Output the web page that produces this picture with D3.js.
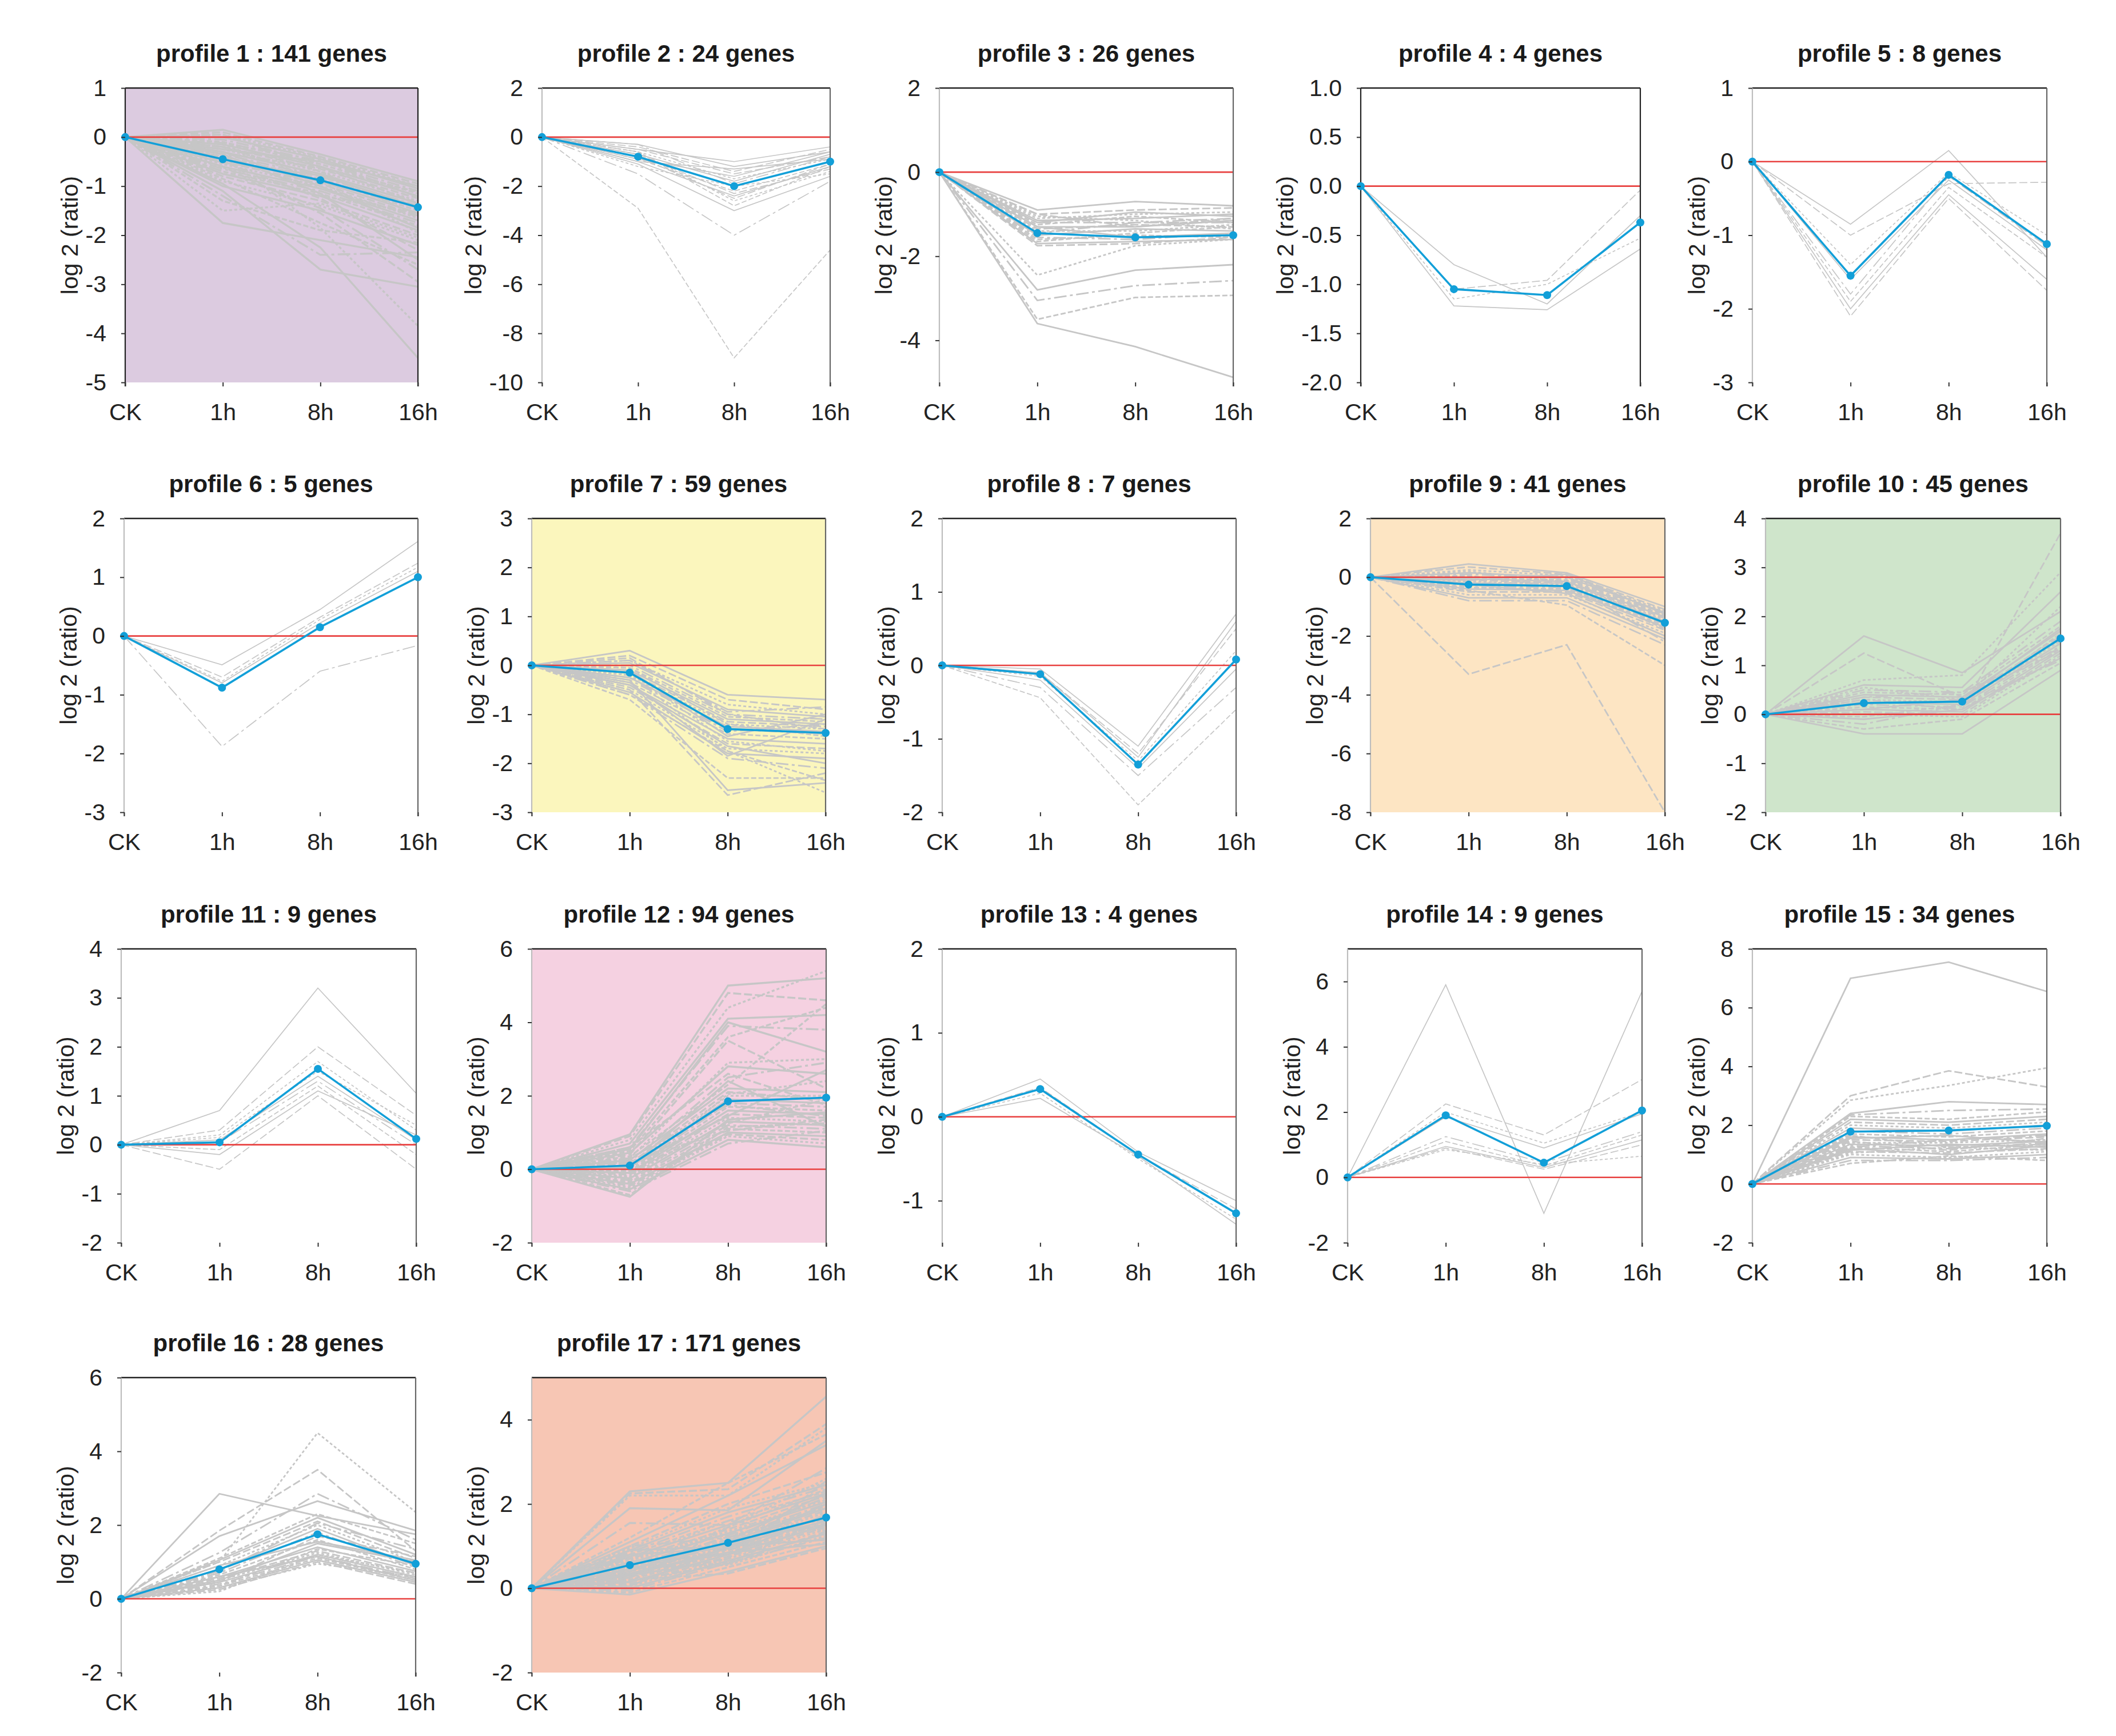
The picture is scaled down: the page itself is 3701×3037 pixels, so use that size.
<!DOCTYPE html>
<html><head><meta charset="utf-8">
<script src="https://cdn.jsdelivr.net/npm/d3@7"></script>
<style>body{margin:0;background:#fff} text{font-family:"Liberation Sans",Arial,sans-serif}</style>
</head><body><svg id="c" width="3701" height="3037"></svg>
<script>
// ---------------- DATA ----------------
const timepoints = ["CK", "1h", "8h", "16h"];
const profileIds = [1,2,3,4,5,6,7,8,9,10,11,12,13,14,15,16,17];
const geneCounts = [141,24,26,4,8,5,59,7,41,45,9,94,4,9,34,28,171];
const yDomains = [[-5,1],[-10,2],[-5,2],[-2,1],[-3,1],[-3,2],[-3,3],[-2,2],[-8,2],[-2,4],[-2,4],[-2,6],[-1.5,2],[-2,7],[-2,8],[-2,6],[-2,5]];
const yTickValues = [
  [-5,-4,-3,-2,-1,0,1],[-10,-8,-6,-4,-2,0,2],[-4,-2,0,2],[-2,-1.5,-1,-0.5,0,0.5,1],[-3,-2,-1,0,1],
  [-3,-2,-1,0,1,2],[-3,-2,-1,0,1,2,3],[-2,-1,0,1,2],[-8,-6,-4,-2,0,2],[-2,-1,0,1,2,3,4],
  [-2,-1,0,1,2,3,4],[-2,0,2,4,6],[-1,0,1,2],[-2,0,2,4,6],[-2,0,2,4,6,8],[-2,0,2,4,6],[-2,0,2,4]];
const tickDecimals = [0,0,0,1,0,0,0,0,0,0,0,0,0,0,0,0,0];
const meanProfiles = [
  [0,-0.45,-0.88,-1.43],[0,-0.8,-2.0,-1.0],[0,-1.45,-1.55,-1.5],[0,-1.05,-1.11,-0.37],[0,-1.55,-0.18,-1.12],
  [0,-0.88,0.15,1.0],[0,-0.15,-1.3,-1.38],[0,-0.12,-1.35,0.08],[0,-0.25,-0.3,-1.55],[0,0.23,0.26,1.55],
  [0,0.05,1.55,0.12],[0,0.1,1.85,1.95],[0,0.33,-0.45,-1.15],[0,1.9,0.45,2.05],[0,1.78,1.82,1.98],
  [0,0.8,1.75,0.95],[0,0.55,1.08,1.68]];

const genesP1 = [[0,0.15,-0.35,-0.9],[0,0.1,-0.4,-0.95],[0,0.05,-0.42,-1.0],[0,0.0,-0.45,-1.05],[0,-0.05,-0.5,-1.1],
 [0,-0.1,-0.55,-1.15],[0,-0.15,-0.6,-1.2],[0,-0.2,-0.65,-1.25],[0,-0.25,-0.7,-1.3],[0,-0.3,-0.75,-1.35],
 [0,-0.35,-0.8,-1.4],[0,-0.4,-0.85,-1.5],[0,-0.45,-0.9,-1.55],[0,-0.5,-0.95,-1.6],[0,-0.55,-1.0,-1.65],
 [0,-0.6,-1.05,-1.7],[0,-0.65,-1.1,-1.75],[0,-0.7,-1.15,-1.8],[0,-0.75,-1.2,-1.9],[0,-0.8,-1.3,-2.0],
 [0,-0.9,-1.4,-2.1],[0,-1.0,-1.5,-2.2],[0,-0.2,-0.8,-1.45],[0,-0.1,-0.7,-1.6],[0,-0.3,-1.0,-1.85],
 [0,-0.5,-1.25,-2.3],[0,-1.5,-1.35,-2.05],[0,-1.75,-2.1,-2.45],[0,-1.2,-2.4,-2.35],[0,-0.85,-1.75,-2.6],
 [0,-1.1,-2.7,-3.05],[0,-0.6,-1.55,-2.95],[0,-0.4,-1.85,-3.85],[0,-0.95,-2.25,-4.5],[0,-0.7,-1.45,-2.7],
 [0,-1.3,-1.9,-2.15],[0,-0.35,-1.15,-2.5],[0,0.05,-0.6,-1.35],[0,-0.15,-0.9,-1.95],[0,-0.25,-0.5,-1.0],
 [0,-0.12,-0.48,-1.22],[0,-0.32,-0.62,-1.12],[0,-0.52,-0.78,-1.42],[0,-0.42,-1.05,-1.62],[0,-0.62,-1.2,-1.55]];
const genesP2 = [[0,-0.3,-1.2,-0.6],[0,-0.5,-1.5,-0.8],[0,-0.6,-1.7,-0.9],[0,-0.7,-1.8,-0.7],[0,-0.8,-2.0,-1.0],
 [0,-0.9,-2.2,-1.1],[0,-1.0,-2.4,-1.2],[0,-0.4,-1.4,-0.5],[0,-0.6,-2.6,-1.4],[0,-1.1,-3.0,-1.6],
 [0,-1.5,-4.0,-1.8],[0,-2.9,-9.0,-4.6],[0,-0.5,-1.0,-0.4],[0,-0.7,-2.3,-1.3],[0,-1.2,-2.0,-1.5],
 [0,-0.9,-1.6,-0.6],[0,-0.3,-1.9,-0.8],[0,-0.6,-2.8,-1.2],[0,-1.0,-1.3,-0.9],[0,-0.8,-2.5,-1.1]];
const genesP3 = [[0,-0.9,-0.7,-0.8],[0,-1.0,-0.9,-0.85],[0,-1.1,-1.0,-0.95],[0,-1.15,-1.1,-1.0],[0,-1.2,-1.2,-1.1],
 [0,-1.25,-1.05,-1.2],[0,-1.3,-1.3,-1.15],[0,-1.35,-1.25,-1.3],[0,-1.4,-1.4,-1.25],[0,-1.5,-1.35,-1.4],
 [0,-1.55,-1.6,-1.45],[0,-1.6,-1.5,-1.55],[0,-1.7,-1.65,-1.6],[0,-1.75,-1.7,-1.55],[0,-1.05,-1.15,-1.35],
 [0,-1.2,-0.95,-1.05],[0,-1.45,-1.2,-1.2],[0,-1.65,-1.45,-1.3],[0,-1.3,-1.55,-1.45],[0,-1.0,-1.3,-1.1],
 [0,-2.45,-1.75,-1.6],[0,-2.8,-2.33,-2.2],[0,-3.05,-2.7,-2.58],[0,-3.5,-2.98,-2.93],[0,-3.6,-4.15,-4.88]];
const genesP4 = [[0,-0.8,-1.2,-0.3],[0,-1.05,-0.96,-0.04],[0,-1.15,-1.0,-0.53],[0,-1.22,-1.26,-0.64]];
const genesP5 = [[0,-0.85,0.15,-1.3],[0,-1.0,-0.3,-0.28],[0,-1.4,-0.15,-1.0],[0,-1.6,-0.25,-1.2],
 [0,-1.8,-0.2,-1.15],[0,-1.9,-0.35,-1.3],[0,-2.0,-0.45,-1.6],[0,-2.1,-0.5,-1.75]];
const genesP6 = [[0,-0.49,0.45,1.61],[0,-0.7,0.32,1.24],[0,-0.77,0.28,1.17],[0,-0.8,0.22,1.1],[0,-1.88,-0.6,-0.16]];
const genesP7 = [[0,0.3,-0.6,-0.7],[0,0.2,-0.7,-0.9],[0,0.1,-0.8,-1.0],[0,0.05,-0.9,-1.05],[0,0.0,-1.0,-1.1],
 [0,-0.05,-1.05,-1.15],[0,-0.1,-1.1,-1.2],[0,-0.15,-1.15,-1.25],[0,-0.2,-1.2,-1.3],[0,-0.25,-1.25,-1.35],
 [0,-0.3,-1.3,-1.4],[0,-0.35,-1.4,-1.5],[0,-0.4,-1.5,-1.6],[0,-0.45,-1.6,-1.7],[0,-0.5,-1.7,-1.8],
 [0,-0.55,-1.8,-1.9],[0,-0.6,-1.9,-2.1],[0,-0.7,-2.3,-2.3],[0,-0.3,-2.55,-2.4],[0,-0.5,-2.65,-2.2],
 [0,-0.2,-1.75,-2.6],[0,-0.1,-1.45,-1.0],[0,-0.25,-1.35,-1.2],[0,-0.05,-1.2,-1.45],[0,-0.4,-1.65,-2.0],
 [0,0.15,-1.0,-1.3],[0,-0.15,-1.55,-1.75],[0,-0.35,-1.85,-1.1],[0,0.1,-0.95,-0.85],[0,-0.6,-1.75,-2.35]];
const genesP8 = [[0,-0.05,-1.1,0.7],[0,-0.1,-1.2,0.5],[0,-0.15,-1.3,0.2],[0,-0.2,-1.4,-0.05],
 [0,-0.3,-1.5,-0.3],[0,-0.44,-1.9,-0.6],[0,-0.1,-1.25,0.6]];
const genesP9 = [[0,0.45,0.15,-1.0],[0,0.35,0.1,-1.1],[0,0.25,0.05,-1.15],[0,0.15,0.0,-1.2],[0,0.1,-0.05,-1.25],
 [0,0.0,-0.1,-1.3],[0,-0.05,-0.15,-1.35],[0,-0.1,-0.2,-1.4],[0,-0.15,-0.25,-1.45],[0,-0.2,-0.3,-1.5],
 [0,-0.3,-0.35,-1.6],[0,-0.35,-0.4,-1.65],[0,-0.4,-0.45,-1.7],[0,-0.5,-0.5,-1.8],[0,-0.6,-0.6,-1.9],
 [0,-0.7,-0.7,-2.1],[0,-0.8,-0.8,-2.3],[0,-0.45,-0.95,-3.0],[0,-0.25,-0.55,-2.0],[0,-3.3,-2.3,-8.0],
 [0,0.2,-0.15,-1.55],[0,-0.1,0.1,-1.25],[0,-0.2,-0.2,-2.2],[0,0.05,-0.35,-1.75]];
const genesP10 = [[0,1.6,0.85,2.1],[0,1.25,0.35,1.3],[0,0.7,0.8,2.9],[0,0.6,0.55,2.5],[0,0.5,0.45,1.9],
 [0,0.45,0.4,1.8],[0,0.4,0.35,1.7],[0,0.35,0.3,1.6],[0,0.3,0.25,1.5],[0,0.25,0.2,1.45],
 [0,0.2,0.15,1.4],[0,0.15,0.1,1.35],[0,0.1,0.05,1.3],[0,0.05,0.0,1.25],[0,0.0,-0.05,1.2],
 [0,-0.1,0.1,1.15],[0,-0.2,0.2,1.1],[0,-0.3,-0.1,1.05],[0,-0.4,-0.4,0.9],[0,0.3,0.1,3.7],
 [0,0.55,0.3,2.2],[0,0.1,0.3,1.75],[0,0.35,0.45,1.35],[0,-0.05,0.2,1.65]];
const genesP11 = [[0,0.7,3.2,1.05],[0,0.3,2.0,0.6],[0,0.2,1.7,0.3],[0,0.1,1.4,0.1],[0,0.05,1.3,0.0],
 [0,-0.1,1.2,-0.2],[0,-0.2,1.1,0.2],[0,-0.5,1.0,-0.5],[0,0.15,1.5,0.4]];
const genesP12 = [[0,0.95,5.0,5.2],[0,0.9,4.8,4.6],[0,0.8,4.4,5.4],[0,0.7,4.1,4.2],[0,0.6,3.9,3.8],
 [0,0.5,3.6,4.4],[0,0.55,4.0,3.2],[0,0.4,3.5,2.2],[0,0.3,2.9,3.0],[0,0.45,2.8,2.6],
 [0,0.2,2.5,2.9],[0,0.35,2.3,4.5],[0,0.25,2.2,2.1],[0,0.15,2.1,1.9],[0,0.1,2.0,2.0],
 [0,0.05,1.9,1.8],[0,0.0,1.8,1.7],[0,-0.05,1.7,1.6],[0,-0.1,1.6,1.5],[0,-0.15,1.5,1.4],
 [0,-0.2,1.4,1.3],[0,-0.25,1.3,1.2],[0,-0.3,1.2,1.1],[0,-0.35,1.1,1.0],[0,-0.4,1.0,0.9],
 [0,-0.45,0.95,0.8],[0,-0.5,0.9,0.7],[0,-0.55,0.8,0.6],[0,-0.6,0.7,1.05],[0,-0.7,1.15,1.25],
 [0,-0.75,1.35,1.55],[0,0.6,2.6,1.75],[0,-0.2,2.05,2.4],[0,0.1,1.45,2.7],[0,0.3,1.75,1.45],
 [0,-0.1,1.25,1.9],[0,0.05,2.4,1.15],[0,0.2,1.05,1.35]];
const genesP13 = [[0,0.45,-0.42,-1.0],[0,0.35,-0.45,-1.1],[0,0.28,-0.5,-1.22],[0,0.22,-0.47,-1.28]];
const genesP14 = [[0,5.9,-1.1,5.7],[0,2.25,1.3,3.0],[0,2.0,1.05,2.0],[0,1.85,0.9,1.95],[0,1.25,0.45,1.4],
 [0,1.1,0.35,1.3],[0,0.95,0.3,1.15],[0,0.9,0.25,1.0],[0,0.85,0.4,0.65]];
const genesP15 = [[0,7.0,7.55,6.55],[0,3.0,3.85,3.3],[0,2.85,3.35,3.95],[0,2.4,2.8,2.7],[0,2.35,2.5,2.55],
 [0,2.3,2.2,2.45],[0,2.2,2.1,2.3],[0,2.1,2.0,2.2],[0,2.0,1.9,2.1],[0,1.9,1.8,2.0],
 [0,1.8,1.7,1.9],[0,1.7,1.6,1.8],[0,1.6,1.5,1.7],[0,1.5,1.45,1.6],[0,1.4,1.4,1.5],
 [0,1.35,1.3,1.45],[0,1.3,1.2,1.4],[0,1.25,1.1,1.35],[0,1.2,1.0,1.3],[0,1.1,1.05,1.2],
 [0,1.0,0.9,1.1],[0,0.9,0.85,1.0],[0,0.8,0.8,0.9],[0,0.7,0.95,0.8],[0,1.15,1.35,1.25],
 [0,1.45,1.15,1.55],[0,1.05,1.25,1.15],[0,1.55,1.65,1.4],[0,1.25,1.5,1.65],[0,1.65,1.25,1.35]];
const genesP16 = [[0,2.85,2.25,1.75],[0,1.85,3.5,1.3],[0,1.0,4.5,2.35],[0,1.7,2.65,1.85],[0,1.25,2.85,1.6],
 [0,1.1,2.3,1.5],[0,1.05,2.2,1.2],[0,1.0,2.1,1.1],[0,0.9,2.0,1.0],[0,0.8,1.9,0.9],
 [0,0.7,1.8,0.85],[0,0.65,1.6,0.8],[0,0.6,1.4,0.75],[0,0.55,1.3,0.7],[0,0.5,1.25,0.65],
 [0,0.45,1.2,0.6],[0,0.4,1.15,0.55],[0,0.35,1.1,0.5],[0,0.3,1.05,0.45],[0,0.25,1.0,0.4],
 [0,0.2,1.2,0.7],[0,0.5,1.5,1.0],[0,0.75,2.05,1.35],[0,0.35,1.35,0.9],[0,0.6,1.15,0.5],
 [0,0.45,1.7,1.15],[0,0.3,0.95,0.6],[0,0.9,1.55,1.05]];
const genesP17 = [[0,2.3,2.5,4.55],[0,2.25,2.35,3.9],[0,2.2,2.2,3.8],[0,1.9,1.85,3.5],[0,1.55,1.5,2.85],
 [0,1.2,2.5,3.65],[0,1.1,2.2,3.4],[0,1.0,2.0,2.75],[0,0.95,1.9,2.5],[0,0.9,1.8,2.45],
 [0,0.85,1.7,2.4],[0,0.8,1.6,2.3],[0,0.75,1.5,2.25],[0,0.7,1.4,2.2],[0,0.65,1.35,2.1],
 [0,0.6,1.3,2.05],[0,0.55,1.2,2.0],[0,0.5,1.15,1.95],[0,0.45,1.1,1.9],[0,0.4,1.05,1.85],
 [0,0.35,1.0,1.8],[0,0.3,0.95,1.7],[0,0.25,0.9,1.6],[0,0.2,0.85,1.55],[0,0.15,0.8,1.5],
 [0,0.1,0.75,1.45],[0,0.05,0.7,1.4],[0,0.0,0.65,1.3],[0,-0.05,0.6,1.2],[0,-0.1,0.5,1.1],
 [0,-0.15,0.4,1.0],[0,0.2,0.35,0.95],[0,0.5,0.55,1.25],[0,0.6,0.8,1.75],[0,0.4,1.25,2.15],
 [0,0.15,1.45,2.35],[0,0.9,1.0,1.6],[0,0.3,0.7,2.55],[0,0.7,1.6,1.35],[0,0.05,1.0,1.15],
 [0,1.0,1.2,1.9],[0,0.45,0.6,1.65],[0,0.8,0.95,2.0],[0,0.25,1.15,1.5],[0,0.55,1.45,2.6],[0,0.35,0.85,1.05],
 [0,0.62,1.05,1.52],[0,0.48,0.92,1.72],[0,0.32,1.12,2.25],[0,0.18,0.58,1.35],[0,0.68,1.28,1.62]];
const geneProfiles = [genesP1,genesP2,genesP3,genesP4,genesP5,genesP6,genesP7,genesP8,genesP9,genesP10,
  genesP11,genesP12,genesP13,genesP14,genesP15,genesP16,genesP17];

// ---------------- STYLE ----------------
const panelFills = [ "#dccbe0", null, null, null, null, null, "#fbf6bd", null, "#fde5c3", "#cfe5cb",
  null, "#f5d1e1", null, null, null, null, "#f7c6b4"];
const darkLeft = [true,false,false,true,false,false,false,false,false,false,false,false,false,false,false,false,false];
const dashes = ["", "14,5", "5,4", "", "22,6,5,6", "9,4"];

// ---------------- LAYOUT ----------------
const layout = [
  [219,731,154,669],[948,1452,154,669],[1643,2157,154,669],[2380,2869,154,669],[3065,3580,154,669],
  [217,731,907,1421],[930,1444,907,1421],[1648,2162,907,1421],[2397,2912,907,1421],[3088,3604,907,1421],
  [212,728,1660,2174],[930,1445,1660,2174],[1648,2162,1660,2174],[2357,2872,1660,2174],[3065,3580,1660,2174],
  [212,727,2410,2926],[930,1445,2410,2926]];

const svg = d3.select("#c");
svg.append("rect").attr("width",3701).attr("height",3037).attr("fill","#fff");
const defs = svg.append("defs");

profileIds.forEach((pid, i) => {
  const [x0,x1,y0,y1] = layout[i];
  const x = d3.scalePoint().domain(timepoints).range([x0,x1]).padding(0);
  const y = d3.scaleLinear().domain(yDomains[i]).range([y1,y0]);
  const g = svg.append("g");
  const clipId = "clip" + pid;
  defs.append("clipPath").attr("id", clipId).append("rect")
    .attr("x", x0 - 10).attr("y", y0).attr("width", x1 - x0 + 20).attr("height", y1 - y0);

  if (panelFills[i]) {
    g.append("rect").attr("x",x0).attr("y",y0).attr("width",x1-x0).attr("height",y1-y0).attr("fill",panelFills[i]);
  }
  const line = d3.line().x((d,k) => x(timepoints[k])).y(d => y(d));
  const genes = geneProfiles[i];
  const gw = genes.length > 35 ? 3.4 : (genes.length > 20 ? 2.8 : 1.7);
  g.append("g").attr("clip-path", `url(#${clipId})`).selectAll("path").data(genes).join("path")
    .attr("d", line).attr("fill","none").attr("stroke","#c6c6c6").attr("stroke-width", gw)
    .attr("stroke-dasharray", (d,k) => dashes[k % dashes.length]);

  // zero line
  g.append("line").attr("x1",x0).attr("x2",x1).attr("y1",y(0)).attr("y2",y(0))
    .attr("stroke","#e8403f").attr("stroke-width",2.6);

  // frame
  g.append("line").attr("x1",x0).attr("x2",x1).attr("y1",y0).attr("y2",y0).attr("stroke","#222").attr("stroke-width",2.6);
  g.append("line").attr("x1",x1).attr("x2",x1).attr("y1",y0).attr("y2",y1+7).attr("stroke", darkLeft[i] ? "#222" : "#666").attr("stroke-width",2.2);
  g.append("line").attr("x1",x0).attr("x2",x0).attr("y1",y0).attr("y2",y1+7).attr("stroke", darkLeft[i] ? "#222" : "#bdbdbd").attr("stroke-width",2.2);

  // mean profile
  g.append("path").datum(meanProfiles[i]).attr("d", line).attr("fill","none")
    .attr("stroke","#129fd8").attr("stroke-width",3.6);
  g.selectAll("circle.m").data(meanProfiles[i]).join("circle").attr("class","m")
    .attr("cx",(d,k)=>x(timepoints[k])).attr("cy",d=>y(d)).attr("r",7).attr("fill","#129fd8");

  // axes
  const fmt = v => tickDecimals[i] ? v.toFixed(tickDecimals[i]) : String(v);
  const ya = g.append("g").attr("transform",`translate(${x0},0)`)
    .call(d3.axisLeft(y).tickValues(yTickValues[i]).tickSize(7).tickPadding(26).tickFormat(fmt));
  ya.select(".domain").remove();
  ya.selectAll("line").attr("stroke","#333").attr("stroke-width",2);
  ya.selectAll("text").attr("fill","#222").attr("font-size",41).attr("font-family","Liberation Sans, Arial, sans-serif");
  ya.attr("font-size",null).attr("font-family",null);

  const xa = g.append("g").attr("transform",`translate(0,${y1})`)
    .call(d3.axisBottom(x).tickSize(7).tickPadding(30));
  xa.select(".domain").remove();
  xa.selectAll("line").attr("stroke","#333").attr("stroke-width",2);
  xa.selectAll("text").attr("fill","#222").attr("font-size",41).attr("font-family","Liberation Sans, Arial, sans-serif");
  xa.attr("font-size",null).attr("font-family",null);

  let maxW = 0;
  ya.selectAll("text").each(function(){ maxW = Math.max(maxW, this.getComputedTextLength()); });
  const bx = x0 - 7 - 26 - maxW - 14;
  g.append("text").attr("transform",`translate(${bx},${(y0+y1)/2}) rotate(-90)`)
    .attr("text-anchor","middle").attr("font-size",41).attr("fill","#222")
    .text("log 2 (ratio)");

  g.append("text").attr("x",(x0+x1)/2).attr("y",y0-46).attr("text-anchor","middle")
    .attr("font-size",42).attr("font-weight","bold").attr("fill","#1a1a1a")
    .text(`profile ${pid} : ${geneCounts[i]} genes`);
});
</script></body></html>
